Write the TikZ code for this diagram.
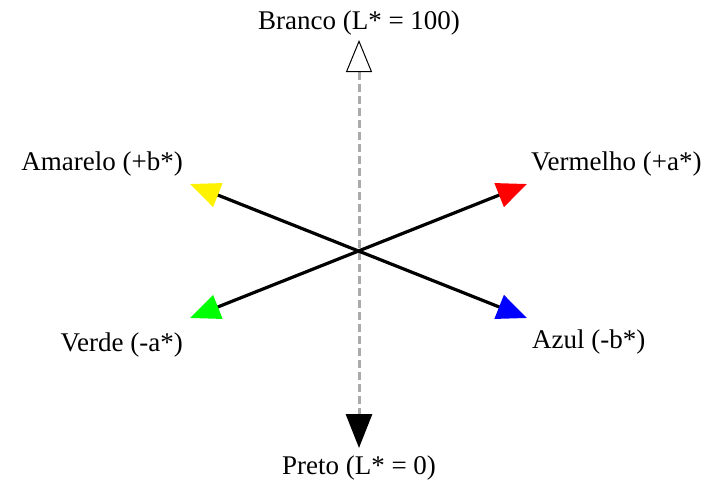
\documentclass[tikz,border=0pt]{standalone}
\usepackage{fontspec}
\setmainfont{Liberation Serif}
\usetikzlibrary{arrows.meta,positioning}

\begin{document}
\begin{tikzpicture}[
  x=1pt, y=-1pt,
  lbl/.style={inner sep=1pt, font=\fontsize{27}{32}\selectfont},
  chroma/.style={line width=3.2pt, black},
  light/.style={line width=3pt, draw={rgb,255:red,170;green,170;blue,170}, dash pattern=on 8pt off 4pt}
]
\useasboundingbox (0,0) rectangle (717,483);

% centre and arrow ends
\coordinate (c) at (359,251);
\coordinate (wht) at (359,40);
\coordinate (blk) at (359,448);
\coordinate (red) at (527,184);
\coordinate (yel) at (190,184);
\coordinate (grn) at (190,318);
\coordinate (blu) at (527,318);

% labels
\node[lbl, anchor=base] (branco) at (359,29) {Branco (L* = 100)};
\node[lbl, anchor=base] (preto) at (359,474) {Preto (L* = 0)};
\node[lbl, anchor=base east] (amarelo) at (184,170) {Amarelo (+b*)};
\node[lbl, anchor=base west] (vermelho) at (530,170) {Vermelho (+a*)};
\node[lbl, anchor=base east] (verde) at (184,351) {Verde (-a*)};
\node[lbl, anchor=base west] (azul) at (531,348) {Azul (-b*)};

% L* axis
\draw[light, {Triangle[length=32pt, width=26pt, open, color=black, fill=white, line width=1pt]}-{Triangle[length=34pt, width=26pt, color=black]}] (wht) -- (blk);

% a* and b* axes
\draw[chroma, {Triangle[length=30pt, width=25pt, color=green]}-{Triangle[length=30pt, width=25pt, color=red]}] (grn) -- (red);
\draw[chroma, {Triangle[length=30pt, width=25pt, color=yellow]}-{Triangle[length=30pt, width=25pt, color=blue]}] (yel) -- (blu);
\end{tikzpicture}
\end{document}
